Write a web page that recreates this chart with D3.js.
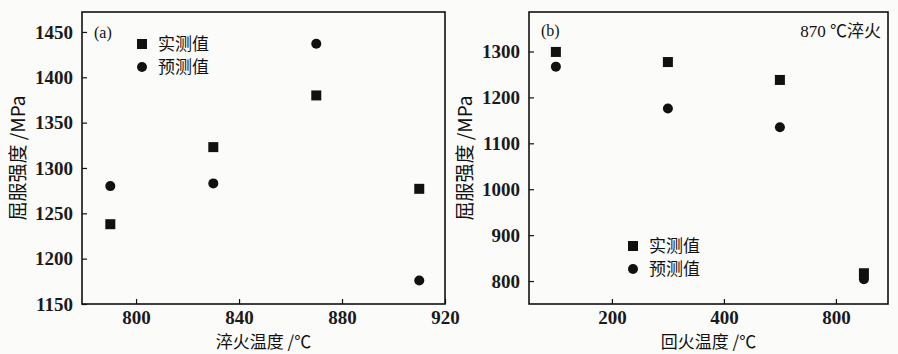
<!DOCTYPE html>
<html>
<head>
<meta charset="utf-8">
<script src="https://cdn.jsdelivr.net/npm/d3@7"></script>
<style>
  body { margin: 0; background: #fbfbfa; }
  svg { display: block; }
</style>
</head>
<body>
<svg id="chart" width="898" height="354"></svg>
<script>
// panel (a): quench temperature
const quenchTemps = [790, 830, 870, 910];
const quenchMeasured = [1238, 1323, 1380, 1277];
const quenchPredicted = [1280, 1283, 1437, 1176];
const quenchXTicks = [800, 840, 880, 920];
const quenchYTicks = [1150, 1200, 1250, 1300, 1350, 1400, 1450];

// panel (b): tempering temperature, quenched at 870
const temperTemps = [100, 300, 500, 650];
const temperMeasured = [1299, 1277, 1238, 817];
const temperPredicted = [1267, 1176, 1135, 804];
const temperXTicks = [200, 400, 600];
const temperXLabels = ["200", "400", "800"]; // as printed in the original
const temperYTicks = [800, 900, 1000, 1100, 1200, 1300];

const legendNames = ["实测值", "预测值"];

const serif = "'Liberation Serif', 'DejaVu Serif', serif";
const cjk = "'Noto Sans CJK SC', sans-serif";

const svg = d3.select("#chart");

function drawPanel(opt) {
    const x = d3.scaleLinear().domain(opt.xDomain).range([opt.left, opt.right]);
    const y = d3.scaleLinear().domain(opt.yDomain).range([opt.bottom, opt.top]);
    const g = svg.append("g");

    g.append("g")
        .attr("transform", `translate(0,${opt.bottom})`)
        .call(d3.axisBottom(x).tickValues(opt.xTicks).tickSizeInner(-5).tickSizeOuter(0).tickPadding(7)
            .tickFormat((d, i) => opt.xLabels ? opt.xLabels[i] : d3.format("d")(d)))
        .call(a => a.select(".domain").remove());

    g.append("g")
        .attr("transform", `translate(${opt.left},0)`)
        .call(d3.axisLeft(y).tickValues(opt.yTicks).tickSizeInner(-5).tickSizeOuter(0).tickPadding(9)
            .tickFormat(d3.format("d")))
        .call(a => a.select(".domain").remove());

    g.selectAll(".tick line").attr("stroke", "#111").attr("stroke-width", 1.2);
    g.selectAll(".tick text")
        .style("font-family", serif).style("font-size", "19px")
        .style("font-weight", "bold").style("fill", "#1a1a1a");

    g.append("rect")
        .attr("x", opt.left).attr("y", opt.top)
        .attr("width", opt.right - opt.left).attr("height", opt.bottom - opt.top)
        .attr("fill", "none").attr("stroke", "#111").attr("stroke-width", 1.6);

    // measured: squares
    g.selectAll(".sq").data(opt.xs)
        .enter().append("rect")
        .attr("x", (d, i) => x(d) - 5).attr("y", (d, i) => y(opt.measured[i]) - 5)
        .attr("width", 10).attr("height", 10).attr("fill", "#111");

    // predicted: circles
    g.selectAll(".ci").data(opt.xs)
        .enter().append("circle")
        .attr("cx", d => x(d)).attr("cy", (d, i) => y(opt.predicted[i]))
        .attr("r", 5).attr("fill", "#111");

    // legend
    const lg = g.append("g").attr("transform", `translate(${opt.legendX},${opt.legendY})`);
    lg.append("rect").attr("x", -5).attr("y", -5).attr("width", 10).attr("height", 10).attr("fill", "#111");
    lg.append("circle").attr("cx", 0).attr("cy", 23).attr("r", 5).attr("fill", "#111");
    lg.selectAll("text").data(legendNames).enter().append("text")
        .attr("x", 16).attr("y", (d, i) => i * 23)
        .attr("dy", "0.36em")
        .style("font-family", cjk).style("font-size", "17px").style("fill", "#111")
        .text(d => d);

    g.append("text")
        .attr("x", opt.left + 12).attr("y", opt.top + opt.tagDy)
        .style("font-family", serif).style("font-size", "16px").style("fill", "#111")
        .text(opt.tag);

    g.append("text")
        .attr("x", (opt.left + opt.right) / 2).attr("y", 342)
        .attr("text-anchor", "middle").attr("dy", "0.36em")
        .style("font-family", cjk).style("font-size", "17px").style("fill", "#111")
        .text(opt.xTitle);

    g.append("text")
        .attr("transform", `translate(${opt.left - 64},${(opt.top + opt.bottom) / 2}) rotate(-90)`)
        .attr("text-anchor", "middle").attr("dy", "0.36em")
        .style("font-family", cjk).style("font-size", "19px").style("fill", "#111")
        .text("屈服强度 /MPa");

    return g;
}

drawPanel({
    left: 82, right: 445, top: 12, bottom: 304,
    xDomain: [779, 920], yDomain: [1150, 1472],
    xTicks: quenchXTicks, yTicks: quenchYTicks,
    xs: quenchTemps, measured: quenchMeasured, predicted: quenchPredicted,
    legendX: 142, legendY: 44, tag: "(a)", tagDy: 26, xTitle: "淬火温度 /℃"
});

const pb = drawPanel({
    left: 529, right: 888, top: 12, bottom: 304,
    xDomain: [52, 693], yDomain: [750, 1386],
    xTicks: temperXTicks, xLabels: temperXLabels, yTicks: temperYTicks,
    xs: temperTemps, measured: temperMeasured, predicted: temperPredicted,
    legendX: 633, legendY: 246, tag: "(b)", tagDy: 24, xTitle: "回火温度 /℃"
});

const note = pb.append("text")
    .attr("x", 881).attr("y", 31)
    .attr("text-anchor", "end").attr("dy", "0.36em")
    .style("font-size", "17px").style("fill", "#111");
note.append("tspan").style("font-family", serif).text("870 ");
note.append("tspan").style("font-family", cjk).text("℃淬火");
</script>
</body>
</html>
